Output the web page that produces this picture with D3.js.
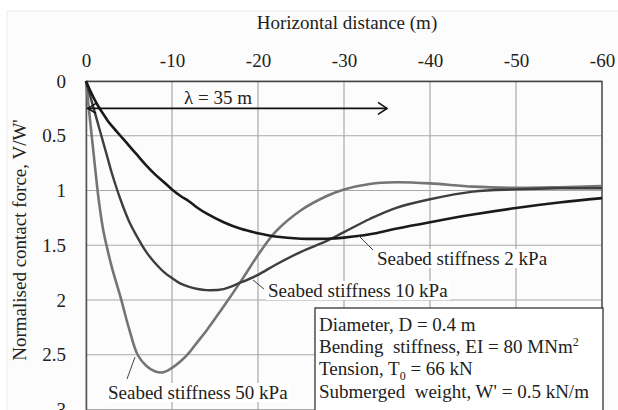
<!DOCTYPE html>
<html>
<head>
<meta charset="utf-8">
<script src="https://cdn.jsdelivr.net/npm/d3@7"></script>
<style>
  body { margin: 0; background: #fff; }
  svg { display: block; font-family: "Liberation Serif", "Times New Roman", serif; }
</style>
</head>
<body>
<svg width="618" height="410"></svg>
<script>
// horizontal distance (m), shared by all three curves
var distance = [0, -0.5, -1, -1.5, -2, -2.5, -3, -4, -5, -6, -7, -8, -9, -10, -11, -12, -13, -14,
                -16, -18, -20, -22, -25, -28, -30, -33, -36, -40, -45, -50, -55, -60];

// normalised contact force V/W'
var stiff2 = [0, 0.09, 0.17, 0.24, 0.30, 0.36, 0.41, 0.50, 0.59, 0.68, 0.77, 0.85, 0.92, 0.99, 1.05, 1.10, 1.16, 1.21,
              1.29, 1.35, 1.39, 1.42, 1.44, 1.44, 1.43, 1.40, 1.35, 1.29, 1.22, 1.16, 1.11, 1.07];
var stiff10 = [0, 0.14, 0.28, 0.42, 0.56, 0.70, 0.84, 1.08, 1.28, 1.43, 1.56, 1.66, 1.74, 1.80, 1.85, 1.88, 1.90, 1.91,
               1.90, 1.84, 1.77, 1.68, 1.56, 1.46, 1.38, 1.26, 1.16, 1.08, 1.01, 0.99, 0.98, 0.98];
var stiff50 = [0, 0.38, 0.75, 1.10, 1.36, 1.54, 1.70, 1.97, 2.26, 2.50, 2.60, 2.65, 2.66, 2.62, 2.56, 2.48, 2.38, 2.28,
               2.06, 1.83, 1.59, 1.38, 1.18, 1.05, 0.99, 0.94, 0.925, 0.935, 0.965, 0.975, 0.97, 0.96];

var xTicks = [0, -10, -20, -30, -40, -50, -60];
var yTicks = [0, 0.5, 1, 1.5, 2, 2.5, 3];

var infoLines = ["Diameter, D = 0.4 m", "Bending  stiffness, EI = 80 MNm", "Tension, T", "Submerged  weight, W' = 0.5 kN/m"];

var svg = d3.select("svg");

var x = d3.scaleLinear().domain([0, -60]).range([86, 602]);
var y = d3.scaleLinear().domain([0, 3]).range([81, 409.5]);

// faint photo frame
svg.append("rect").attr("x", 7).attr("y", 11).attr("width", 620).attr("height", 410)
  .attr("fill", "#fcfcfc").attr("stroke", "#eeeeee");

// grid
var grid = svg.append("g");
grid.selectAll(".gx").data(xTicks).enter().append("line")
  .attr("x1", function(d) { return x(d); }).attr("x2", function(d) { return x(d); })
  .attr("y1", y(0)).attr("y2", y(3))
  .attr("stroke", "#a8a8a8").attr("stroke-width", 1.2);
grid.selectAll(".gy").data(yTicks).enter().append("line")
  .attr("x1", x(0)).attr("x2", x(-60))
  .attr("y1", function(d) { return y(d); }).attr("y2", function(d) { return y(d); })
  .attr("stroke", "#a8a8a8").attr("stroke-width", 1.2);

// axes
var xAxis = d3.axisTop(x).tickValues(xTicks).tickSize(0).tickPadding(14)
  .tickFormat(function(d) { return String(d); });
var gx = svg.append("g").attr("transform", "translate(0," + y(0) + ")").call(xAxis);
gx.select(".domain").attr("stroke", "#444").attr("stroke-width", 1.5);
gx.selectAll("text").attr("font-size", 19).attr("fill", "#222")
  .attr("font-family", "Liberation Serif");

var yAxis = d3.axisLeft(y).tickValues(yTicks).tickSize(0).tickPadding(20)
  .tickFormat(function(d) { return String(d); });
var gy = svg.append("g").attr("transform", "translate(" + x(0) + ",0)").call(yAxis);
gy.select(".domain").attr("stroke", "#555").attr("stroke-width", 1.5);
gy.selectAll("text").attr("font-size", 19).attr("fill", "#222")
  .attr("font-family", "Liberation Serif");

svg.append("line").attr("x1", x(-60)).attr("x2", x(-60)).attr("y1", y(0)).attr("y2", y(3))
  .attr("stroke", "#555").attr("stroke-width", 1.5);

// titles
svg.append("text").attr("x", 347).attr("y", 29).attr("text-anchor", "middle")
  .attr("font-size", 19).attr("fill", "#222").text("Horizontal distance (m)");
svg.append("text").attr("transform", "translate(26,240) rotate(-90)").attr("text-anchor", "middle")
  .attr("font-size", 19).attr("fill", "#222").text("Normalised contact force, V/W'");

// curves
var series = [
  { vals: stiff50, color: "#747474", width: 2.6 },
  { vals: stiff10, color: "#3e3e3e", width: 2.4 },
  { vals: stiff2, color: "#1a1a1a", width: 2.6 }
];
var line = d3.line()
  .x(function(d) { return x(d[0]); })
  .y(function(d) { return y(d[1]); })
  .curve(d3.curveCatmullRom.alpha(0.5));
svg.selectAll(".curve").data(series).enter().append("path")
  .attr("fill", "none")
  .attr("stroke", function(d) { return d.color; })
  .attr("stroke-width", function(d) { return d.width; })
  .attr("d", function(d) { return line(d3.zip(distance, d.vals)); });

// lambda arrow
var ay = y(0.25);
svg.append("line").attr("x1", x(0) + 1).attr("x2", x(-35)).attr("y1", ay).attr("y2", ay)
  .attr("stroke", "#111").attr("stroke-width", 1.6);
svg.append("path").attr("fill", "none").attr("stroke", "#111").attr("stroke-width", 1.6)
  .attr("d", "M" + (x(0) + 10) + "," + (ay - 5) + "L" + (x(0) + 2) + "," + ay + "L" + (x(0) + 10) + "," + (ay + 5));
svg.append("path").attr("fill", "none").attr("stroke", "#111").attr("stroke-width", 1.6)
  .attr("d", "M" + (x(-35) - 9) + "," + (ay - 6) + "L" + x(-35) + "," + ay + "L" + (x(-35) - 9) + "," + (ay + 6));
svg.append("text").attr("x", 218).attr("y", 104).attr("text-anchor", "middle")
  .attr("font-size", 19).attr("fill", "#222").text("\u03bb = 35 m");

// curve labels with leader lines
var labels = [
  { text: "Seabed stiffness 2 kPa", x: 377, y: 265, lx1: 359, ly1: 236, lx2: 373, ly2: 250 },
  { text: "Seabed stiffness 10 kPa", x: 268, y: 297, lx1: 253, ly1: 280, lx2: 264, ly2: 289 },
  { text: "Seabed stiffness 50 kPa", x: 108, y: 399, lx1: 135, ly1: 357, lx2: 127, ly2: 379 }
];
labels.forEach(function(l) {
  svg.append("line").attr("x1", l.lx1).attr("y1", l.ly1).attr("x2", l.lx2).attr("y2", l.ly2)
    .attr("stroke", "#444").attr("stroke-width", 1);
  var t = svg.append("text").attr("x", l.x).attr("y", l.y)
    .attr("font-size", 19).attr("fill", "#222").text(l.text);
  var bb = t.node().getBBox();
  svg.insert("rect", function() { return t.node(); })
    .attr("x", bb.x - 2).attr("y", bb.y + 1).attr("width", bb.width + 4).attr("height", bb.height - 2)
    .attr("fill", "#fff");
});

// info box
svg.append("rect").attr("x", 315).attr("y", 308).attr("width", 288).attr("height", 110)
  .attr("fill", "#fff").attr("stroke", "#333").attr("stroke-width", 1.3);
var info = svg.append("g").attr("font-size", 19).attr("fill", "#222");
var lineY = [331, 353, 375, 398];
info.append("text").attr("x", 319).attr("y", lineY[0]).text(infoLines[0]);
var t1 = info.append("text").attr("x", 319).attr("y", lineY[1]).attr("xml:space", "preserve").text(infoLines[1]);
t1.append("tspan").attr("dy", -7).attr("font-size", 12).text("2");
var t2 = info.append("text").attr("x", 319).attr("y", lineY[2]).text(infoLines[2]);
t2.append("tspan").attr("dy", 5).attr("font-size", 12).text("0");
t2.append("tspan").attr("dy", -5).text(" = 66 kN");
info.append("text").attr("x", 319).attr("y", lineY[3]).attr("xml:space", "preserve").text(infoLines[3]);
</script>
</body>
</html>
